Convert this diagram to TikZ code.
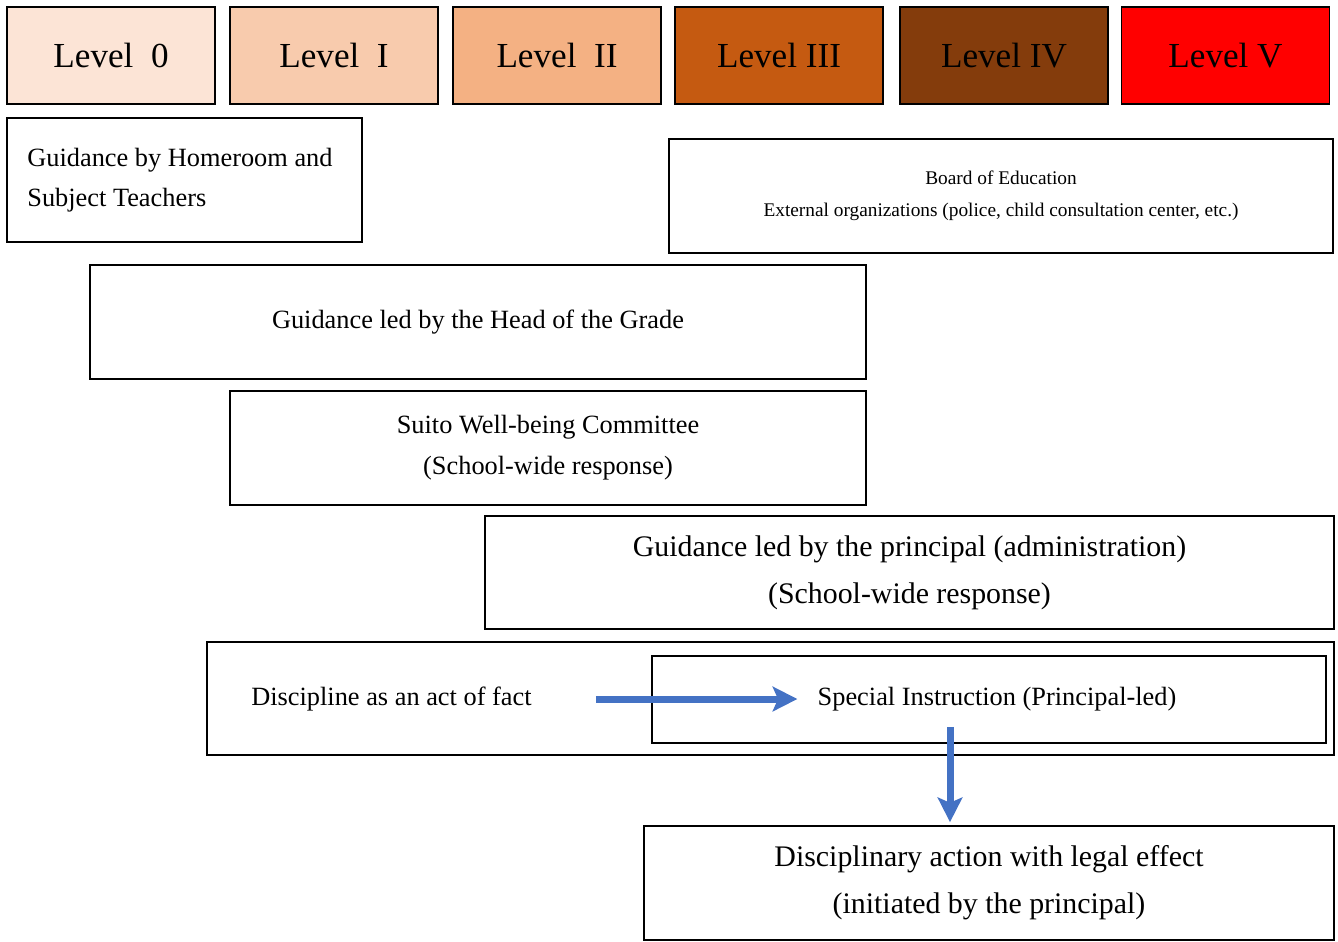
\documentclass[tikz,border=0pt]{standalone}
\usepackage{fontspec}
\setmainfont{Liberation Serif}
\usepackage{xcolor}
\usetikzlibrary{arrows.meta, positioning}

\definecolor{lvzero}{HTML}{FCE4D6}
\definecolor{lvone}{HTML}{F8CBAD}
\definecolor{lvtwo}{HTML}{F4B183}
\definecolor{lvthree}{HTML}{C55A11}
\definecolor{lvfour}{HTML}{843C0C}
\definecolor{lvfive}{HTML}{FF0000}
\definecolor{flowblue}{HTML}{4472C4}

\begin{document}
\begin{tikzpicture}[
    x=0.02cm, y=-0.02cm,
    level/.style={draw, line width=1pt, minimum width=4.16cm, minimum height=1.94cm, font=\fontsize{20}{24}\selectfont},
    box/.style={draw, line width=1pt, align=center, minimum height=2.28cm, font=\fontsize{15}{23.2}\selectfont},
    bigbox/.style={box, font=\fontsize{17}{26.6}\selectfont},
    flow/.style={line width=4pt, flowblue, -{Stealth[length=14pt, width=14pt, inset=3pt]}}
]
    \useasboundingbox (0,0) rectangle (1338,941);

    % Levels
    \node[level, fill=lvzero]  (lv0) at (111,55.5)    {Level\enspace 0};
    \node[level, fill=lvone]   (lv1) at (334,55.5)    {Level\enspace I};
    \node[level, fill=lvtwo]   (lv2) at (557,55.5)    {Level\enspace II};
    \node[level, fill=lvthree] (lv3) at (779,55.5)    {Level III};
    \node[level, fill=lvfour]  (lv4) at (1004,55.5)   {Level IV};
    \node[level, fill=lvfive]  (lv5) at (1225.5,55.5) {Level V};

    % Responses
    \node[box, minimum width=7.1cm, minimum height=2.48cm] (homeroom) at (184.5,180) {};
    \node[align=left, anchor=west, inner sep=0pt, font=\fontsize{15}{22.7}\selectfont] (homeroomtext) at (27,180)
          {Guidance by Homeroom and\\Subject Teachers};
    \node[box, minimum width=13.28cm, font=\fontsize{11}{18}\selectfont] (board) at (1001,196)
          {Board of Education\\External organizations (police, child consultation center, etc.)};
    \node[box, minimum width=15.52cm] (head) at (478,322) {Guidance led by the Head of the Grade};
    \node[box, minimum width=12.72cm] (suito) at (548,448)
          {Suito Well-being Committee\\(School-wide response)};
    \node[bigbox, minimum width=16.98cm, minimum height=2.26cm] (principal) at (909.5,572.5)
          {Guidance led by the principal (administration)\\(School-wide response)};

    % Discipline
    \node[draw, line width=1pt, minimum width=22.54cm, minimum height=2.26cm] (fact) at (770.5,698.5) {};
    \node[font=\fontsize{15}{18}\selectfont, anchor=west, inner sep=0pt] (facttext) at (251,699)
          {Discipline as an act of fact};
    \node[draw, line width=1pt, minimum width=13.48cm, minimum height=1.74cm] (special) at (989,699.5) {};
    \node[font=\fontsize{15}{18}\selectfont, inner sep=0pt] (specialtext) at (997,699)
          {Special Instruction (Principal-led)};
    \node[bigbox, minimum width=13.8cm] (action) at (989,883)
          {Disciplinary action with legal effect\\(initiated by the principal)};

    % Connections
    \draw[flow, shorten >=0.4cm] ([xshift=1.28cm]facttext.east) -- (specialtext.west);
    \draw[flow] ([xshift=-0.78cm, yshift=0.34cm]special.south) -- ([xshift=-0.78cm, yshift=0.06cm]action.north);
\end{tikzpicture}
\end{document}
